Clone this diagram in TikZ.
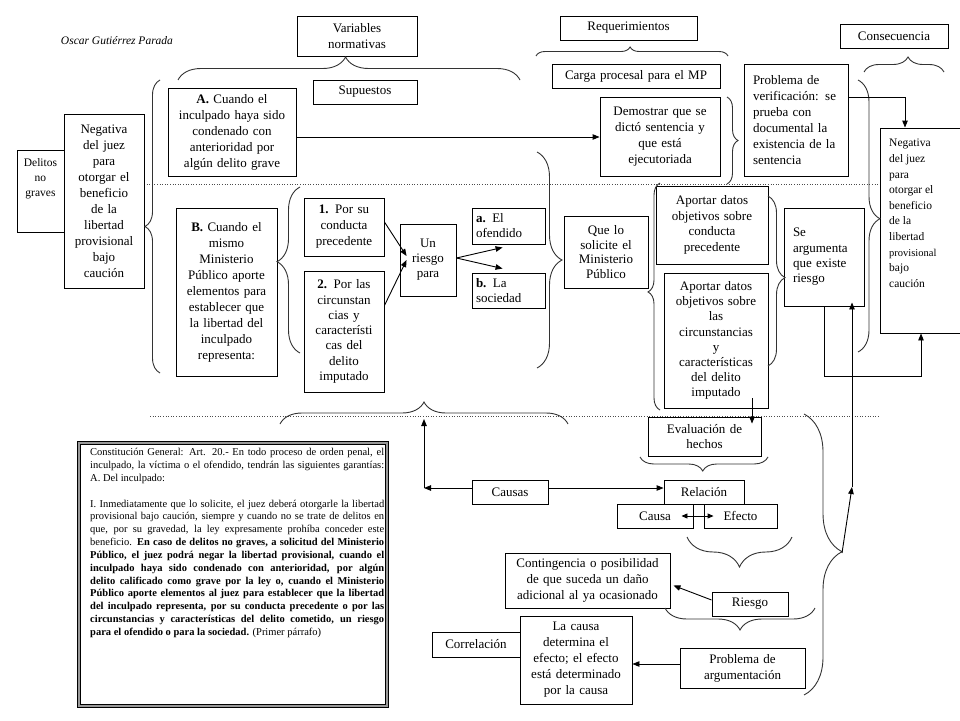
\documentclass[tikz,border=0pt]{standalone}
\usepackage{fontspec}
\setmainfont{Liberation Serif}
\usetikzlibrary{arrows.meta,decorations.pathreplacing}
\newcommand\mybox[7][]{%
  \pgfmathsetmacro\myW{#5-#3}%
  \pgfmathsetmacro\myH{#6-#4}%
  \pgfmathsetmacro\myTW{#5-#3-6}%
  \pgfmathsetmacro\myCX{(#3+#5)/2}%
  \pgfmathsetmacro\myCY{(#4+#6)/2}%
  \node[bx,minimum width=\myW pt,minimum height=\myH pt,text width=\myTW pt,#1] (#2) at (\myCX,\myCY) {#7};}
\tikzset{
  bx/.style={draw,line width=0.9pt,inner sep=2pt,align=center,font=\fontsize{13}{16}\selectfont},
  arr/.style={line width=0.9pt,-{Triangle[length=7pt,width=5.5pt]}},
  arrtwo/.style={line width=0.9pt,{Triangle[length=6pt,width=5pt]}-{Triangle[length=6pt,width=5pt]}},
  brc/.style={draw=black!80,line width=0.9pt,decorate},
  dotln/.style={draw=black!70,line width=0.6pt,dotted},
  cl/.style={anchor=base west,inner sep=0pt,font=\fontsize{10.5}{12.85}\selectfont},
}
\begin{document}
\begin{tikzpicture}[x=1pt,y=-1pt]
\useasboundingbox (0,0) rectangle (960,720);
% dotted separators
\draw[dotln] (144,184) -- (880,184);
\draw[dotln] (150,416) -- (880,416);
% author
\node[inner sep=0pt,font=\fontsize{11.5}{14}\selectfont\itshape] (author) at (117,41) {Oscar Gutiérrez Parada};
% boxes
\mybox{dng}{17}{150}{64}{232}{}
\node[anchor=north,inner sep=0pt,align=center,font=\fontsize{11.5}{15}\selectfont] (dngt) at (40.5,158) {Delitos\\no\\graves};
\mybox{neg1}{64}{114}{144}{288}{Negativa\\del juez\\para\\otorgar el\\beneficio\\de la\\libertad\\provisional\\bajo\\caución}
\mybox{pA}{168}{88}{296}{176}{\textbf{A.} Cuando el\\inculpado haya sido\\condenado con\\anterioridad por\\algún delito grave}
\mybox{varn}{297}{16}{417}{56}{Variables\\normativas}
\mybox{sup}{313}{80}{417}{104}{Supuestos}
\mybox{req}{560}{16}{697}{40}{Requerimientos}
\mybox{carga}{552}{64}{720}{88}{Carga procesal para el MP}
\mybox{demo}{600}{97}{720}{176}{Demostrar que se\\dictó sentencia y\\que está\\ejecutoriada}
\mybox[align=left,text width=86pt]{probver}{744}{64}{848}{176}{Problema de\\verificación: se\\prueba con\\documental la\\existencia de la\\sentencia}
\mybox{cons}{840}{24}{948}{48}{Consecuencia}
\mybox{neg2}{880}{128}{962}{333}{}
\node[anchor=north west,inner sep=0pt,align=left,font=\fontsize{11.5}{15.6}\selectfont] (neg2t) at (889,139) {Negativa\\del juez\\para\\otorgar el\\beneficio\\de la\\libertad\\{\fontsize{10.5}{15.6}\selectfont provisional}\\bajo\\caución};
\mybox{pB}{176}{208}{277}{376}{\textbf{B.} Cuando el\\mismo\\Ministerio\\Público aporte\\elementos para\\establecer que\\la libertad del\\inculpado\\representa:}
\mybox{p1}{304}{198}{384}{256}{\textbf{1.} Por su\\conducta\\precedente}
\mybox[font=\fontsize{13}{15.3}\selectfont]{p2}{304}{271}{384}{392}{\textbf{2.} Por las\\circunstan\\cias y\\característi\\cas del\\delito\\imputado}
\mybox[font=\fontsize{13}{15}\selectfont]{riesgo}{400}{224}{456}{296}{Un\\riesgo\\para}
\mybox[align=left,text width=65pt,font=\fontsize{13}{15}\selectfont]{pa}{472}{208}{545}{244}{\textbf{a.} El\\ofendido}
\mybox[align=left,text width=65pt,font=\fontsize{13}{15}\selectfont]{pb}{472}{273}{545}{308}{\textbf{b.} La\\sociedad}
\mybox[font=\fontsize{13}{14.5}\selectfont]{que}{564}{216}{648}{288}{Que lo\\solicite el\\Ministerio\\Público}
\mybox[font=\fontsize{13}{15.5}\selectfont]{ap1}{656}{186}{768}{264}{Aportar datos\\objetivos sobre\\conducta\\precedente}
\mybox[font=\fontsize{13}{15.2}\selectfont]{ap2}{664}{273}{768}{408}{Aportar datos\\objetivos sobre\\las\\circunstancias\\y\\características\\del delito\\imputado}
\mybox[align=left,text width=62pt,font=\fontsize{13}{15.3}\selectfont]{sea}{784}{208}{864}{306}{Se\\argumenta\\que existe\\riesgo}
\mybox[font=\fontsize{13}{15}\selectfont]{ev}{648}{417}{761}{456}{Evaluación de\\hechos}
\mybox{rel}{664}{480}{744}{504}{Relación}
\mybox{causa}{617}{504}{693}{528}{Causa}
\mybox{efecto}{704}{504}{777}{528}{Efecto}
\mybox{causas}{472}{480}{548}{504}{Causas}
\mybox{cont}{505}{553}{670}{608}{Contingencia o posibilidad\\de que suceda un daño\\adicional al ya ocasionado}
\mybox{rsg}{712}{592}{788}{616}{Riesgo}
\mybox{lacausa}{520}{616}{632}{704}{La causa\\determina el\\efecto; el efecto\\está determinado\\por la causa}
\mybox{corr}{432}{632}{520}{657}{Correlación}
\mybox{parg}{680}{648}{805}{688}{Problema de\\argumentación}
% constitution box
\node[draw=black,line width=0.8pt,double=black!40,double distance=2.6pt,inner sep=0pt,outer sep=0pt,minimum width=307.8pt,minimum height=262.8pt] (cbox) at (233,574.5) {};
\node[cl] (t0) at (90,455.6) {\makebox[294pt][s]{Constitución General: Art. 20.- En todo proceso de orden penal, el}};
\node[cl] (t1) at (90,468.45) {\makebox[294pt][s]{inculpado, la víctima o el ofendido, tendrán las siguientes garantías:}};
\node[cl] (t2) at (90,481.3) {A. Del inculpado:};
\node[cl] (t4) at (90,507) {\makebox[294pt][s]{I. Inmediatamente que lo solicite, el juez deberá otorgarle la libertad}};
\node[cl] (t5) at (90,519.85) {\makebox[294pt][s]{provisional bajo caución, siempre y cuando no se trate de delitos en}};
\node[cl] (t6) at (90,532.7) {\makebox[294pt][s]{que, por su gravedad, la ley expresamente prohíba conceder este}};
\node[cl] (t7) at (90,545.55) {\makebox[294pt][s]{beneficio. \textbf{En caso de delitos no graves, a solicitud del Ministerio}}};
\node[cl] (t8) at (90,558.4) {\makebox[294pt][s]{\textbf{Público, el juez podrá negar la libertad provisional, cuando el}}};
\node[cl] (t9) at (90,571.25) {\makebox[294pt][s]{\textbf{inculpado haya sido condenado con anterioridad, por algún}}};
\node[cl] (t10) at (90,584.1) {\makebox[294pt][s]{\textbf{delito calificado como grave por la ley o, cuando el Ministerio}}};
\node[cl] (t11) at (90,596.95) {\makebox[294pt][s]{\textbf{Público aporte elementos al juez para establecer que la libertad}}};
\node[cl] (t12) at (90,609.8) {\makebox[294pt][s]{\textbf{del inculpado representa, por su conducta precedente o por las}}};
\node[cl] (t13) at (90,622.65) {\makebox[294pt][s]{\textbf{circunstancias y características del delito cometido, un riesgo}}};
\node[cl] (t14) at (90,635.5) {\textbf{para el ofendido o para la sociedad.} (Primer párrafo)};
% braces
\draw[brc,decoration={brace,amplitude=23pt,aspect=0.49}] (178,80) -- (520,80);
\draw[brc,decoration={brace,amplitude=9pt,aspect=0.49}] (536,56) -- (728,56);
\draw[brc,decoration={brace,amplitude=15pt,aspect=0.55}] (864,72) -- (944,72);
\draw[brc,decoration={brace,amplitude=15pt,aspect=0.5}] (160,373) -- (160,80);
\draw[brc,decoration={brace,amplitude=23pt,aspect=0.55}] (300,353) -- (300,187);
\draw[brc,decoration={brace,amplitude=25pt,aspect=0.5}] (537,152) -- (537,368);
\draw[brc,decoration={brace,amplitude=11pt,aspect=0.5}] (727,97) -- (727,184);
\draw[brc,decoration={brace,amplitude=12pt,aspect=0.52}] (660,410) -- (660,183);
\draw[brc,decoration={brace,amplitude=17pt,aspect=0.48}] (768,196) -- (768,366);
\draw[brc,decoration={brace,amplitude=22pt,aspect=0.51}] (858,80) -- (858,352);
\draw[brc,decoration={brace,amplitude=22pt,aspect=0.5}] (280,424) -- (568,424);
\draw[brc,decoration={brace,amplitude=14pt,aspect=0.51}] (768,457) -- (640,457);
\draw[brc,decoration={brace,amplitude=30pt,aspect=0.5}] (792,537) -- (687,537);
\draw[brc,decoration={brace,amplitude=22pt,aspect=0.5}] (815,608) -- (665,608);
\draw[brc,decoration={brace,amplitude=38pt,aspect=0.49}] (804,414) -- (804,695);
% helper coordinates
\coordinate (bt) at (842,553);
\coordinate (j1) at (852,487);
\coordinate (j2) at (424,488);
\coordinate (j3) at (424,419);
% connectors
\draw[arr] ([yshift=-5pt]pA.east) -- ([yshift=-5pt]pA.east -| demo.west);
\draw[arr] ([yshift=23pt]probver.east) -| ([xshift=-16pt]neg2.north);
\draw[arr] ([yshift=5pt]p1.east) -- ([xshift=7pt,yshift=4pt]riesgo.west);
\draw[arr] ([yshift=26pt]p2.east) -- ([xshift=7pt]riesgo.west);
\draw[arr] ([yshift=2pt]riesgo.east) -- ([xshift=31pt,yshift=-3pt]pa.south west);
\draw[arr] ([yshift=2pt]riesgo.east) -- ([xshift=31pt,yshift=4pt]pb.north west);
\draw[arr] (sea.south) -- ++(0,70) -| (neg2.south);
\draw[arr] (bt) -- (j1);
\draw[arr] (j1) -- ([xshift=28pt,yshift=4pt]sea.south);
\draw[arr] ([xshift=36pt,yshift=10pt]ap2.south) -- ([xshift=47.5pt,yshift=-7pt]ev.north);
\draw[arr] ([yshift=4pt]causas.east) -- ([yshift=4pt]rel.west);
\draw[arr] ([yshift=4pt]causas.west) -- (j2);
\draw[arr] (j2) -- (j3);
\draw[arrtwo] ([xshift=-12pt]causa.east) -- ([xshift=10pt]efecto.west);
\draw[arr] ([yshift=4pt]rsg.west) -- ([xshift=3pt,yshift=-5pt]cont.east);
\draw[arr] ([yshift=4pt]parg.west) -- ([yshift=4pt]parg.west -| lacausa.east);
\end{tikzpicture}
\end{document}
